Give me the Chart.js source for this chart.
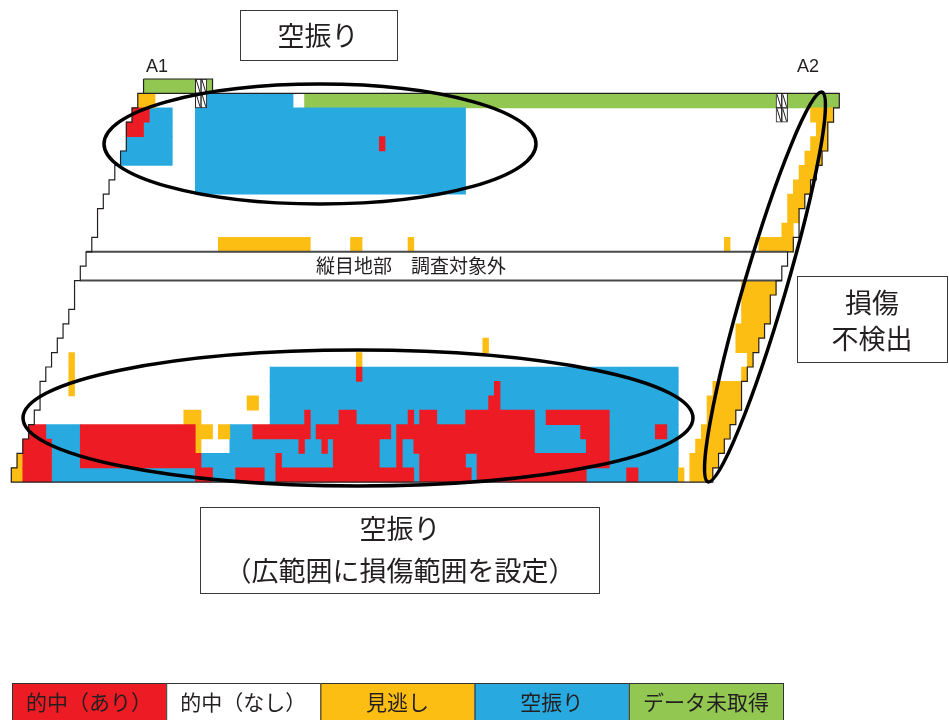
<!DOCTYPE html>
<html lang="ja">
<head>
<meta charset="utf-8">
<script src="https://cdn.jsdelivr.net/npm/chart.js@4.4.1/dist/chart.umd.min.js"></script>
<style>
  html, body { margin: 0; padding: 0; background: #fff; }
  #wrap { position: relative; width: 949px; height: 720px; }
</style>
</head>
<body>
<div id="wrap"><canvas id="deck"></canvas></div>
<script>
// deck grid: 144 columns x 28 rows, row 0 at the top
const COLS = 144
const ROWS = 28

// first column / one-past-last column of the deck on each row
const leftEdge = [23, 22, 21, 20, 20, 19, 18, 17, 16, 15, 15, 14, 13, 12, 11, 11, 10, 9, 8, 7, 6, 5, 5, 4, 3, 2, 1, 0]
const rightEdge = [35, 144, 143, 142, 142, 141, 140, 139, 138, 137, 137, 136, 135, 134, 133, 132, 132, 131, 130, 129, 128, 127, 127, 126, 125, 124, 123, 122]

// band that was not surveyed (rows)
const bandRows = [12, 13]

// cells as [row, firstCol, lastCol]
const hitYes = [
  [2, 21, 23], [3, 20, 22], [4, 64, 64],
  [20, 60, 60], [21, 84, 84], [22, 83, 84],
  [23, 51, 51], [23, 57, 59], [23, 69, 69], [23, 71, 73], [23, 79, 90], [23, 93, 103],
  [24, 3, 5], [24, 12, 31], [24, 42, 51], [24, 53, 65], [24, 67, 90], [24, 99, 103], [24, 112, 113],
  [25, 2, 6], [25, 12, 31], [25, 50, 50], [25, 54, 54], [25, 56, 63], [25, 67, 67], [25, 70, 90], [25, 100, 103],
  [26, 2, 6], [26, 12, 32], [26, 46, 46], [26, 56, 63], [26, 67, 67], [26, 71, 78], [26, 81, 103],
  [27, 2, 6], [27, 32, 34], [27, 39, 43], [27, 46, 69], [27, 71, 79], [27, 81, 99], [27, 107, 108]
]
const falseAlarm = [
  [1, 34, 48], [2, 24, 27], [3, 23, 27], [4, 20, 27], [5, 19, 27],
  [2, 32, 78], [3, 32, 78], [4, 32, 63], [4, 65, 78], [5, 32, 78], [6, 32, 78], [7, 32, 78],
  [20, 45, 59], [20, 61, 115],
  [21, 45, 83], [21, 85, 115],
  [22, 45, 82], [22, 85, 115],
  [23, 45, 50], [23, 52, 56], [23, 60, 68], [23, 70, 70], [23, 74, 78], [23, 91, 92], [23, 104, 115],
  [24, 6, 11], [24, 38, 41], [24, 52, 52], [24, 66, 66], [24, 91, 98], [24, 104, 111], [24, 114, 115],
  [25, 7, 11], [25, 38, 49], [25, 51, 53], [25, 55, 55], [25, 64, 66], [25, 68, 69], [25, 91, 99], [25, 104, 115],
  [26, 7, 11], [26, 33, 45], [26, 47, 55], [26, 64, 66], [26, 68, 70], [26, 79, 80], [26, 104, 115],
  [27, 7, 31], [27, 35, 38], [27, 44, 45], [27, 70, 70], [27, 80, 80], [27, 100, 106], [27, 109, 115]
]
const missed = [
  [1, 22, 24],
  [2, 139, 142], [3, 140, 141], [4, 139, 141], [5, 138, 140], [6, 137, 139], [7, 136, 138],
  [8, 135, 137], [9, 135, 136], [10, 134, 135],
  [11, 36, 51], [11, 59, 60], [11, 69, 69], [11, 124, 124], [11, 130, 135],
  [14, 127, 132], [15, 127, 131], [16, 127, 131], [17, 126, 130], [18, 126, 129], [18, 82, 82],
  [19, 10, 10], [19, 60, 60], [19, 128, 128],
  [20, 10, 10], [20, 127, 127],
  [21, 10, 10], [21, 122, 126],
  [22, 41, 42], [22, 121, 126],
  [23, 30, 32], [23, 121, 125],
  [24, 32, 34], [24, 36, 37], [24, 120, 124],
  [25, 32, 32], [25, 119, 123],
  [26, 1, 1], [26, 118, 122],
  [27, 0, 1], [27, 116, 116], [27, 118, 121]
]
const noData = [[0, 23, 31], [0, 34, 34], [1, 51, 132], [1, 135, 143]]
const hatched = [[0, 32, 33], [1, 32, 33], [1, 133, 134], [2, 133, 134]]

const legendLabels = ["的中（あり）", "的中（なし）", "見逃し", "空振り", "データ未取得"]
const legendColors = ["#ED1C24", "#FFFFFF", "#FDBE14", "#28AAE1", "#92C852"]

const INK = "#231F20"
const JP = '"Noto Sans CJK JP", "Noto Sans", sans-serif'

const toBars = segs => segs.map(([r, a, b]) => ({ x: [a, b + 1], y: r + 0.5 }))
const toCells = segs => segs.flatMap(([r, a, b]) => {
  const out = []
  for (let c = a; c <= b; c++) out.push({ x: [c, c + 1], y: r + 0.5 })
  return out
})

// white = inside the deck, no other state
const whiteBase = leftEdge.map((l, r) => [r, l, rightEdge[r] - 1])

function outlinePoints() {
  const pts = [{ x: leftEdge[0], y: 0 }]
  for (let r = 0; r < ROWS; r++) pts.push({ x: rightEdge[r], y: r }, { x: rightEdge[r], y: r + 1 })
  for (let r = ROWS - 1; r >= 0; r--) pts.push({ x: leftEdge[r], y: r + 1 }, { x: leftEdge[r], y: r })
  return pts
}

const barBase = {
  type: "bar",
  grouped: false,
  categoryPercentage: 1,
  barPercentage: 1,
  borderWidth: 0,
  borderSkipped: false
}
const lineBase = {
  type: "line",
  pointRadius: 0,
  tension: 0,
  fill: false,
  clip: 6,
  order: 1
}

// diagonal hatch inside each "excluded" cell
const hatchPlugin = {
  id: "hatch",
  afterDatasetsDraw(chart) {
    const idx = chart.data.datasets.findIndex(d => d.label === "対象外")
    const meta = chart.getDatasetMeta(idx)
    const ctx = chart.ctx
    ctx.save()
    ctx.strokeStyle = INK
    ctx.lineWidth = 1
    meta.data.forEach(el => {
      const { x, y, base, height } = el.getProps(["x", "y", "base", "height"], true)
      const l = Math.min(x, base), r = Math.max(x, base)
      const t = y - height / 2, b = y + height / 2
      ctx.beginPath()
      ctx.moveTo(l + 1, t + 1)
      ctx.lineTo(r - 1, b - 1)
      ctx.stroke()
    })
    ctx.restore()
  }
}

const notesPlugin = {
  id: "notes",
  afterDraw(chart) {
    const ctx = chart.ctx
    const ys = chart.scales.y
    ctx.save()

    const text = (s, x, y, size, family) => {
      ctx.fillStyle = INK
      ctx.font = size + "px " + (family || JP)
      ctx.textAlign = "center"
      ctx.textBaseline = "middle"
      ctx.fillText(s, x, y)
    }
    const box = (x, y, w, h) => {
      ctx.fillStyle = "#fff"
      ctx.fillRect(x, y, w, h)
      ctx.strokeStyle = "#3a3a3a"
      ctx.lineWidth = 1
      ctx.strokeRect(x + 0.5, y + 0.5, w, h)
    }
    const ring = (cx, cy, rx, ry, rot) => {
      ctx.beginPath()
      ctx.ellipse(cx, cy, rx, ry, rot, 0, Math.PI * 2)
      ctx.strokeStyle = "#000"
      ctx.lineWidth = 3.5
      ctx.stroke()
    }

    // band label
    const bandMid = ys.getPixelForValue(bandRows[0] + 1)
    text("縦目地部　調査対象外", 411, bandMid, 19)

    // ends of the span
    text("A1", 157, 67, 18, '"Liberation Sans", Arial, sans-serif')
    text("A2", 808, 67, 18, '"Liberation Sans", Arial, sans-serif')

    ring(320, 144, 216, 60, 0)
    ring(358, 418, 335, 68, 0)
    ring(765, 287, 203, 21, -1.286)

    box(240, 10, 157, 50)
    text("空振り", 318, 36, 27)

    box(797, 276, 150, 86)
    text("損傷", 872, 303, 27)
    text("不検出", 872, 339, 27)

    box(200, 507, 399, 86)
    text("空振り", 400, 529, 27)
    text("（広範囲に損傷範囲を設定）", 400, 571, 27)

    // legend strip
    const lw = 154.2
    legendLabels.forEach((lab, i) => {
      const x = 12 + i * lw
      ctx.fillStyle = legendColors[i]
      ctx.fillRect(x, 683, lw, 40)
      ctx.strokeStyle = "#333"
      ctx.lineWidth = 1
      ctx.strokeRect(x + 0.5, 683.5, lw, 40)
      text(lab, x + lw / 2, 702, 21)
    })
    ctx.restore()
  }
}

new Chart(document.getElementById("deck"), {
  data: {
    datasets: [
      { ...barBase, label: "base", data: toBars(whiteBase), backgroundColor: "#FFFFFF", order: 10 },
      { ...barBase, label: legendLabels[0], data: toBars(hitYes), backgroundColor: legendColors[0], order: 5 },
      { ...barBase, label: legendLabels[2], data: toBars(missed), backgroundColor: legendColors[2], order: 5 },
      { ...barBase, label: legendLabels[3], data: toBars(falseAlarm), backgroundColor: legendColors[3], order: 5 },
      { ...barBase, label: legendLabels[4], data: toBars(noData), backgroundColor: legendColors[4], order: 5 },
      { ...barBase, label: "対象外", data: toCells(hatched), backgroundColor: "#FFFFFF", borderColor: INK, borderWidth: 1, order: 4 },
      { ...lineBase, label: "outline", data: outlinePoints(), borderColor: INK, borderWidth: 1.2 },
      { ...lineBase, label: "row0", data: [{ x: leftEdge[0], y: 1 }, { x: rightEdge[0], y: 1 }], borderColor: INK, borderWidth: 1.2 },
      { ...lineBase, label: "bandTop", data: [{ x: leftEdge[12], y: 12 }, { x: rightEdge[12], y: 12 }], borderColor: "#4a4a4a", borderWidth: 2 },
      { ...lineBase, label: "bandBottom", data: [{ x: leftEdge[13], y: 14 }, { x: rightEdge[13], y: 14 }], borderColor: "#4a4a4a", borderWidth: 2 }
    ]
  },
  options: {
    indexAxis: "y",
    responsive: true,
    maintainAspectRatio: false,
    animation: false,
    layout: { padding: { left: 11.3, right: 109.7, top: 79, bottom: 237.8 } },
    scales: {
      x: { type: "linear", min: 0, max: COLS, display: false, offset: false },
      y: { type: "linear", min: 0, max: ROWS, reverse: true, display: false, offset: false, ticks: { stepSize: 1 } }
    },
    plugins: {
      legend: { display: false },
      tooltip: { enabled: false }
    }
  },
  plugins: [hatchPlugin, notesPlugin]
})
</script>
</body>
</html>
